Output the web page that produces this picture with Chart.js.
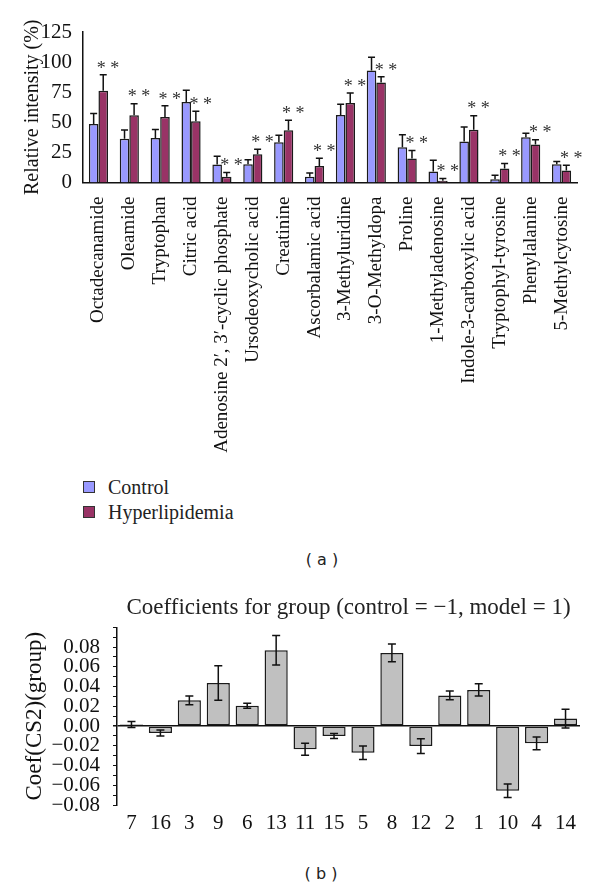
<!DOCTYPE html>
<html>
<head>
<meta charset="utf-8">
<script src="https://cdn.jsdelivr.net/npm/chart.js@4.4.1/dist/chart.umd.min.js"></script>
<style>
  body { margin: 0; background: #fff; width: 600px; height: 886px; position: relative; overflow: hidden;
         font-family: 'Liberation Serif', serif; color: #222; }
  canvas { position: absolute; left: 0; }
  #chartA { top: 0; }
  #chartB { top: 590px; }
  .leg { position: absolute; left: 83px; height: 24px; font-size: 20px; line-height: 24px; }
  .leg .box { position: absolute; left: 0; top: 6px; width: 10px; height: 10px; border: 1px solid #333; }
  .leg .txt { position: absolute; left: 25px; top: 0; white-space: nowrap; }
  .panel { position: absolute; font-family: 'DejaVu Sans', sans-serif; font-size: 16px;
           transform: translate(-50%, -50%); white-space: pre; }
</style>
</head>
<body>
<canvas id="chartA" width="600" height="470"></canvas>
<div class="leg" style="top:475px"><span class="box" style="background:#9999ff"></span><span class="txt">Control</span></div>
<div class="leg" style="top:500px"><span class="box" style="background:#993366"></span><span class="txt">Hyperlipidemia</span></div>
<div class="panel" style="left:322px;top:559px">( a )</div>
<canvas id="chartB" width="600" height="260"></canvas>
<div class="panel" style="left:321px;top:873px">( b )</div>

<script>
// --- données du painel (a)
const metabolites = ['Octadecanamide', 'Oleamide', 'Tryptophan', 'Citric acid',
  'Adenosine 2\u2032, 3\u2032-cyclic phosphate', 'Ursodeoxycholic acid', 'Creatinine',
  'Ascorbalamic acid', '3-Methyluridine', '3-O-Methyldopa', 'Proline', '1-Methyladenosine',
  'Indole-3-carboxylic acid', 'Tryptophyl-tyrosine', 'Phenylalanine', '5-Methylcytosine'];
const controlMean = [48.6, 36.4, 37.0, 66.8, 14.9, 15.2, 33.4, 4.7, 56.0, 93.0, 29.3, 9.1, 34.0, 2.8, 37.6, 15.2];
const controlErr  = [8.8, 7.2, 7.0, 9.9, 6.9, 3.6, 5.8, 3.1, 8.9, 11.0, 10.4, 9.4, 12.1, 3.3, 3.3, 2.2];
const hyperMean   = [76.2, 55.8, 54.5, 50.8, 4.7, 23.5, 43.4, 13.8, 66.0, 83.1, 19.9, 1.4, 43.9, 11.6, 31.5, 9.9];
const hyperErr    = [13.2, 9.6, 9.2, 8.3, 3.6, 4.1, 8.3, 6.4, 8.3, 4.7, 6.6, 1.9, 11.6, 4.1, 4.1, 4.5];

// --- données du painel (b)
const groupLabels = ['7', '16', '3', '9', '6', '13', '11', '15', '5', '8', '12', '2', '1', '10', '4', '14'];
const coefValues  = [0.0015, -0.007, 0.026, 0.0435, 0.0205, 0.0767, -0.0235, -0.0102, -0.027, 0.074,
                     -0.0203, 0.031, 0.0366, -0.0655, -0.0175, 0.0075];
const coefErr     = [0.003, 0.003, 0.0045, 0.0175, 0.0025, 0.015, 0.006, 0.0025, 0.0068, 0.009,
                     0.0075, 0.0045, 0.0063, 0.0068, 0.0065, 0.0095];

Chart.defaults.font.family = "'Liberation Serif', serif";
Chart.defaults.color = '#222';

// barres d'erreur dessinées avec les échelles du graphique
const errorBars = {
  id: 'errorBars',
  afterDatasetsDraw(chart, args, opts) {
    const ctx = chart.ctx;
    const y = chart.scales.y;
    ctx.save();
    ctx.strokeStyle = '#111';
    ctx.lineWidth = opts.lineWidth;
    chart.data.datasets.forEach((ds, di) => {
      if (!ds.errors) return;
      chart.getDatasetMeta(di).data.forEach((bar, i) => {
        const v = ds.data[i], e = ds.errors[i];
        const hi = y.getPixelForValue(v + e);
        const lo = y.getPixelForValue(opts.upOnly ? v : v - e);
        const x = bar.x;
        ctx.beginPath();
        ctx.moveTo(x, lo); ctx.lineTo(x, hi);
        ctx.moveTo(x - opts.cap, hi); ctx.lineTo(x + opts.cap, hi);
        if (!opts.upOnly) { ctx.moveTo(x - opts.cap, lo); ctx.lineTo(x + opts.cap, lo); }
        ctx.stroke();
      });
    });
    ctx.restore();
  }
};

// ** au-dessus des barres Hyperlipidemia
const stars = {
  id: 'stars',
  afterDatasetsDraw(chart) {
    const ctx = chart.ctx;
    const y = chart.scales.y;
    const meta = chart.getDatasetMeta(1);
    ctx.save();
    ctx.fillStyle = '#333';
    ctx.font = "18px 'Liberation Serif', serif";
    ctx.textAlign = 'center';
    ctx.textBaseline = 'middle';
    meta.data.forEach((bar, i) => {
      const top = y.getPixelForValue(hyperMean[i] + hyperErr[i]);
      ctx.fillText('* *', bar.x + bar.width / 2, top - 6);
    });
    ctx.restore();
  }
};

new Chart(document.getElementById('chartA'), {
  type: 'bar',
  data: {
    labels: metabolites,
    datasets: [
      { label: 'Control', data: controlMean, errors: controlErr,
        backgroundColor: '#9999ff', borderColor: '#1a1a1a', borderWidth: 1.5 },
      { label: 'Hyperlipidemia', data: hyperMean, errors: hyperErr,
        backgroundColor: '#993366', borderColor: '#1a1a1a', borderWidth: 1.5 }
    ]
  },
  options: {
    responsive: false,
    animation: false,
    layout: { padding: { top: 32, right: 23, left: 0, bottom: 0 } },
    datasets: { bar: { categoryPercentage: 0.62, barPercentage: 1.0 } },
    plugins: {
      legend: { display: false },
      tooltip: { enabled: false },
      errorBars: { upOnly: true, cap: 3.5, lineWidth: 1.5 }
    },
    scales: {
      x: {
        grid: { display: false, drawTicks: false },
        border: { color: '#111', width: 1.5 },
        ticks: { autoSkip: false, minRotation: 90, maxRotation: 90, padding: 14,
                 font: { size: 19 }, color: '#111' },
        afterFit: (s) => { s.height = 470 - 182.5; }
      },
      y: {
        min: 0, max: 125,
        grid: { display: false, drawTicks: false },
        border: { color: '#111', width: 1.5 },
        ticks: { stepSize: 25, padding: 11, font: { size: 21 }, color: '#111' },
        title: { display: true, text: 'Relative intensity (%)', font: { size: 20 },
                 color: '#111', padding: { top: 21, bottom: 0 } },
        afterFit: (s) => { s.width = 83; }
      }
    }
  },
  plugins: [errorBars, stars]
});

new Chart(document.getElementById('chartB'), {
  type: 'bar',
  data: {
    labels: groupLabels,
    datasets: [
      { label: 'Coef', data: coefValues, errors: coefErr,
        backgroundColor: '#c0c0c0', borderColor: '#1a1a1a', borderWidth: 1.5, borderSkipped: false }
    ]
  },
  options: {
    responsive: false,
    animation: false,
    layout: { padding: { top: 0, right: 20, left: 0, bottom: 0 } },
    datasets: { bar: { categoryPercentage: 0.8, barPercentage: 1.0 } },
    plugins: {
      legend: { display: false },
      tooltip: { enabled: false },
      title: { display: true, fullSize: false,
               text: 'Coefficients for group (control = \u22121, model = 1)',
               font: { size: 23, weight: 'normal', lineHeight: 1.1 }, color: '#222',
               padding: { top: 5, bottom: 7 } },
      errorBars: { upOnly: false, cap: 4, lineWidth: 1.5 }
    },
    scales: {
      x: {
        grid: { display: false, drawTicks: false },
        border: { display: false },
        ticks: { padding: 6, font: { size: 21 }, color: '#111', maxRotation: 0 },
        afterFit: (s) => { s.height = 45; }
      },
      y: {
        min: -0.08, max: 0.10,
        border: { color: '#111', width: 1.5 },
        grid: {
          drawOnChartArea: true, drawTicks: true, tickLength: 4, tickColor: '#111',
          color: (c) => (c.tick && Math.abs(c.tick.value) < 1e-9 ? '#111' : 'rgba(0,0,0,0)'),
          lineWidth: (c) => (c.tick && Math.abs(c.tick.value) < 1e-9 ? 1.5 : 1)
        },
        ticks: {
          stepSize: 0.01, padding: 13, font: { size: 21 }, color: '#111', autoSkip: false,
          callback: (v) => {
            const k = Math.round(v * 100);
            if (k % 2 !== 0 || k > 8) return '';
            return (k / 100).toFixed(2).replace('-', '\u2212');
          }
        },
        title: { display: true, text: 'Coef(CS2)(group)', font: { size: 23 },
                 color: '#111', padding: { top: 21, bottom: 0 } },
        afterFit: (s) => { s.width = 117; }
      }
    }
  },
  plugins: [errorBars]
});
</script>
</body>
</html>
